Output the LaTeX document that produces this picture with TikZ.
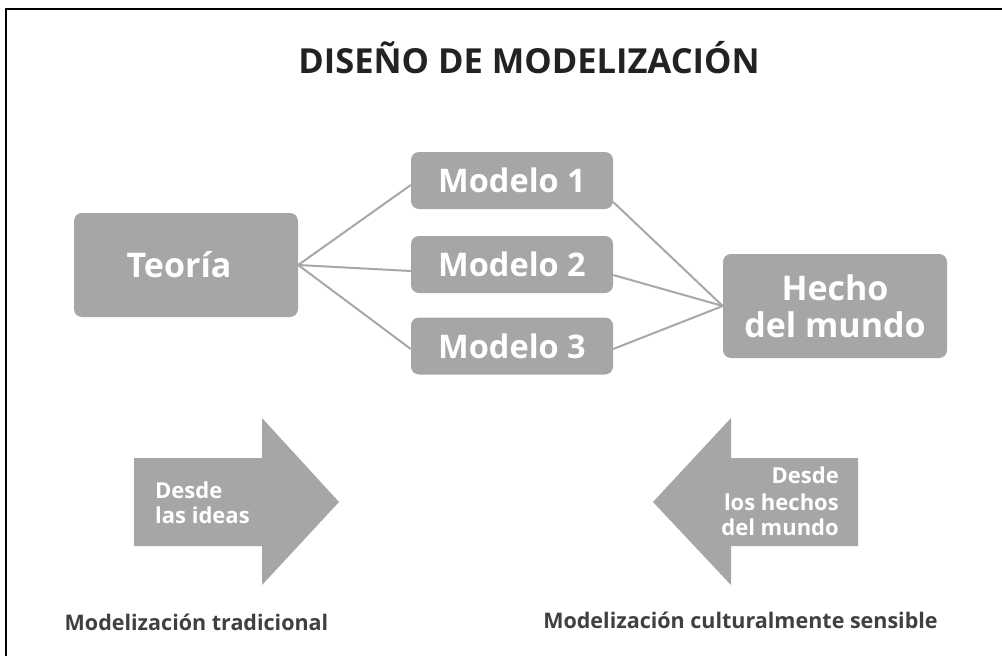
\documentclass[tikz,border=0pt]{standalone}
\usepackage{fontspec}
\setmainfont{Open Sans}
\definecolor{boxgray}{HTML}{A6A6A6}
\definecolor{linegray}{HTML}{A8A8A8}
\definecolor{titlecol}{HTML}{222222}
\definecolor{capcol}{HTML}{404040}
\begin{document}
\begin{tikzpicture}[x=1pt,y=-1pt,
  box/.style={fill=boxgray, rounded corners=8pt, text=white, inner sep=0pt, align=center},
  modelbox/.style={box, minimum width=202pt, minimum height=57pt, font=\bfseries\fontsize{32.5}{36}\selectfont},
  bigbox/.style={box, minimum width=224pt, minimum height=104pt, font=\bfseries\fontsize{34}{37}\selectfont},
  conn/.style={draw=linegray, line width=2pt},
  arrowshape/.style={fill=boxgray},
  arrowtext/.style={text=white, inner sep=0pt, font=\bfseries\fontsize{22}{25}\selectfont},
  caption/.style={text=capcol, inner sep=0pt, font=\bfseries\fontsize{21.5}{24}\selectfont},
  frameline/.style={draw=black, line width=2pt}
]
\useasboundingbox (0,0) rectangle (1002,656);
\fill[white] (0,0) rectangle (1002,656);
\draw[frameline] (6,656) -- (6,8.5) -- (1002,8.5);

\node[anchor=base, text=titlecol, inner sep=0pt, font=\bfseries\fontsize{34.5}{40}\selectfont] (title) at (529,73) {DISEÑO DE MODELIZACIÓN};

\node[bigbox] (teo) at (186,265) {\hspace*{-14pt}Teoría};
\node[modelbox] (m1) at (512,180.5) {Modelo 1};
\node[modelbox] (m2) at (512,264.5) {Modelo 2};
\node[modelbox] (m3) at (512,346) {Modelo 3};
\node[bigbox] (hecho) at (835,306) {Hecho\\del mundo};

\draw[conn] (teo.east) -- ([yshift=-4.5pt]m1.west);
\draw[conn] (teo.east) -- ([yshift=-6.5pt]m2.west);
\draw[conn] (teo.east) -- ([yshift=-3pt]m3.west);
\draw[conn] ([yshift=-21.5pt]m1.east) -- (hecho.west);
\draw[conn] ([yshift=-10.5pt]m2.east) -- (hecho.west);
\draw[conn] ([yshift=-3pt]m3.east) -- (hecho.west);

\fill[arrowshape] (134,458) -- (262,458) -- (262,418) -- (339,502) -- (262,585) -- (262,546) -- (134,546) -- cycle;
\node[arrowtext, anchor=base west] (a1) at (155,498) {Desde};
\node[arrowtext, anchor=base west] (a2) at (155,523) {las ideas};

\fill[arrowshape] (858,458) -- (731,458) -- (731,418) -- (653,502) -- (731,585) -- (731,546) -- (858,546) -- cycle;
\node[arrowtext, anchor=base east] (b1) at (839,483) {Desde};
\node[arrowtext, anchor=base east] (b2) at (839,510) {los hechos};
\node[arrowtext, anchor=base east] (b3) at (839,535) {del mundo};

\node[caption, anchor=base] (c1) at (196.5,630) {Modelización tradicional};
\node[caption, anchor=base] (c2) at (740.5,628) {Modelización culturalmente sensible};
\end{tikzpicture}
\end{document}
